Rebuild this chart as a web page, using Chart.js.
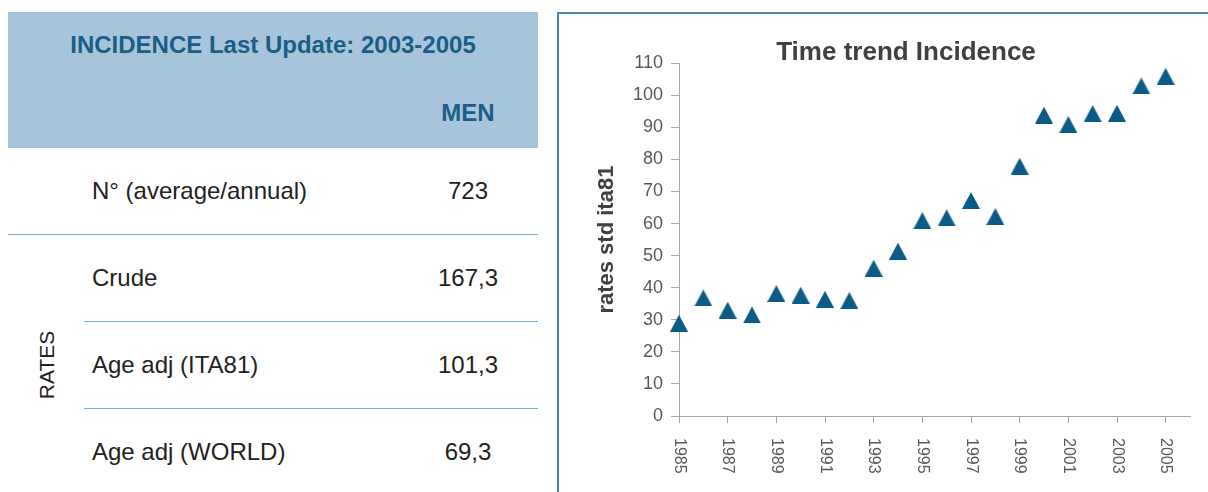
<!DOCTYPE html>
<html>
<head>
<meta charset="utf-8">
<script src="https://cdn.jsdelivr.net/npm/chart.js@4.4.1/dist/chart.umd.min.js"></script>
<style>
  html, body { margin: 0; padding: 0; background: #fff; }
  body { width: 1208px; height: 492px; overflow: hidden; position: relative;
         font-family: "Liberation Sans", Arial, sans-serif; color: #222; }
  .abs { position: absolute; white-space: nowrap; line-height: 28px; }
  .hdr { position: absolute; left: 8px; top: 12px; width: 530px; height: 136px; background: #a7c5da; }
  .hdr-title { left: 8px; width: 530px; top: 31px; text-align: center; font-weight: bold; font-size: 24px; color: #1b5d85; }
  .men { left: 398px; width: 140px; top: 99px; text-align: center; font-weight: bold; font-size: 24px; color: #1b5d85; }
  .lbl { left: 92px; font-size: 24px; }
  .val { left: 398px; width: 140px; text-align: center; font-size: 24px; }
  .rule { position: absolute; height: 1px; background: #78b0d2; }
  .rates { left: 47px; top: 365px; font-size: 21px; transform: translate(-50%, -50%) rotate(-90deg); }
  .frame { position: absolute; left: 557px; top: 12px; width: 700px; height: 500px;
           border-left: 2px solid #4f86ac; border-top: 2px solid #4f86ac; }
  .chart-box { position: absolute; left: 560px; top: 14px; width: 692px; height: 478px; }
</style>
</head>
<body>
  <!-- summary table -->
  <div class="hdr"></div>
  <div class="abs hdr-title">INCIDENCE Last Update: 2003-2005</div>
  <div class="abs men">MEN</div>

  <div class="abs lbl" style="top:177px">N° (average/annual)</div>
  <div class="abs val" style="top:177px">723</div>
  <div class="rule" style="left:8px;width:530px;top:234px"></div>

  <div class="abs lbl" style="top:264px">Crude</div>
  <div class="abs val" style="top:264px">167,3</div>
  <div class="rule" style="left:84px;width:454px;top:321px"></div>

  <div class="abs lbl" style="top:351px">Age adj (ITA81)</div>
  <div class="abs val" style="top:351px">101,3</div>
  <div class="rule" style="left:84px;width:454px;top:408px"></div>

  <div class="abs lbl" style="top:438px">Age adj (WORLD)</div>
  <div class="abs val" style="top:438px">69,3</div>

  <div class="abs rates">RATES</div>

  <!-- trend chart -->
  <div class="frame"></div>
  <div class="chart-box"><canvas id="trendChart"></canvas></div>

<script>
// data
const years = [1985, 1986, 1987, 1988, 1989, 1990, 1991, 1992, 1993, 1994, 1995,
               1996, 1997, 1998, 1999, 2000, 2001, 2002, 2003, 2004, 2005];
const rates = [28.9, 36.8, 33.0, 31.5, 38.2, 37.7, 36.4, 36.0, 46.1, 51.4, 60.9,
               61.8, 67.2, 62.2, 77.9, 93.8, 90.9, 94.3, 94.4, 102.9, 105.9];
const yearTicks = [1985, 1987, 1989, 1991, 1993, 1995, 1997, 1999, 2001, 2003, 2005];

const MARK = '#0a5b86';
const TEXT = '#404040';
const TICK = '#595959';
const AXIS = '#a6a6a6';
const FONT = '"Liberation Sans", Arial, sans-serif';

/** isoceles triangle marker, centred on its bounding box like the Excel one */
function triangleMarker(w, h, color) {
  const c = document.createElement('canvas');
  c.width = w;
  c.height = h;
  const ctx = c.getContext('2d');
  ctx.fillStyle = color;
  ctx.beginPath();
  ctx.moveTo(w / 2, 0);
  ctx.lineTo(w, h);
  ctx.lineTo(0, h);
  ctx.closePath();
  ctx.fill();
  return c;
}

/** x labels read top-to-bottom (rotated clockwise), which Chart.js ticks can't do */
const verticalYearLabels = {
  id: 'verticalYearLabels',
  afterDraw(chart) {
    const sx = chart.scales.x;
    const ctx = chart.ctx;
    ctx.save();
    ctx.fillStyle = TICK;
    ctx.font = '16px ' + FONT;
    ctx.textAlign = 'left';
    ctx.textBaseline = 'middle';
    sx.ticks.forEach(t => {
      ctx.save();
      ctx.translate(sx.getPixelForValue(t.value), sx.top + 22);
      ctx.rotate(Math.PI / 2);
      ctx.fillText(String(t.value), 0, 0);
      ctx.restore();
    });
    ctx.restore();
  }
};

/** centre the title over the whole canvas, not just the padded part */
const wideTitle = {
  id: 'wideTitle',
  afterLayout(chart) {
    if (chart.titleBlock) chart.titleBlock.right = chart.width;
  }
};

new Chart(document.getElementById('trendChart'), {
  type: 'scatter',
  data: {
    datasets: [{
      label: 'Incidence',
      data: years.map((y, i) => ({ x: y, y: rates[i] })),
      pointStyle: triangleMarker(18, 17, MARK),
      backgroundColor: MARK,
      borderColor: MARK,
      clip: false,
    }]
  },
  options: {
    responsive: true,
    maintainAspectRatio: false,
    animation: false,
    layout: { padding: { left: 0, right: 62, top: 0, bottom: 0 } },
    plugins: {
      legend: { display: false },
      tooltip: { enabled: false },
      title: {
        display: true,
        text: 'Time trend Incidence',
        color: TEXT,
        font: { family: FONT, size: 26, weight: 'bold' },
        padding: { top: 23, bottom: -5 },
      }
    },
    scales: {
      x: {
        type: 'linear',
        min: 1985,
        max: 2006,
        afterBuildTicks: (axis) => { axis.ticks = yearTicks.map(v => ({ value: v })); },
        afterFit: (scale) => { scale.height = 76; },
        ticks: { display: false },
        grid: { drawOnChartArea: false, tickLength: 7, tickColor: AXIS },
        border: { color: AXIS, width: 1 },
      },
      y: {
        min: 0,
        max: 110,
        afterFit: (scale) => { scale.width = 119; },
        ticks: { stepSize: 10, color: TICK, font: { family: FONT, size: 18 }, padding: 8 },
        grid: { drawOnChartArea: false, tickLength: 8, tickColor: AXIS },
        border: { color: AXIS, width: 1 },
        title: {
          display: true,
          text: 'rates std ita81',
          color: TEXT,
          font: { family: FONT, size: 22, weight: 'bold' },
          padding: { top: 34, bottom: 0 },
        }
      }
    }
  },
  plugins: [verticalYearLabels, wideTitle]
});
</script>
</body>
</html>
